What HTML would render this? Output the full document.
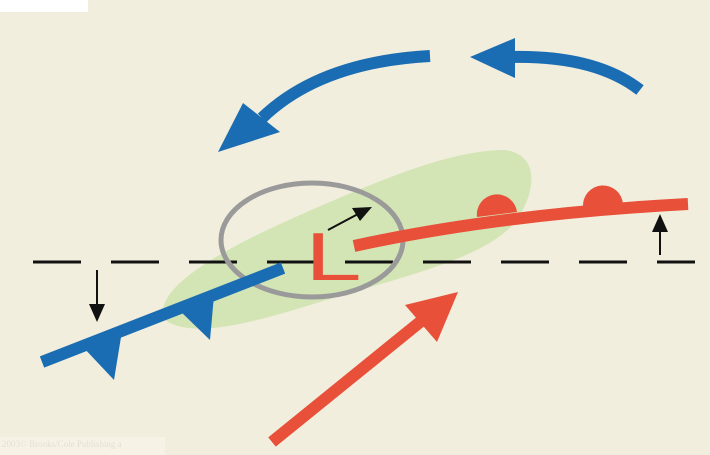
<!DOCTYPE html>
<html><head><meta charset="utf-8"><style>
html,body{margin:0;padding:0;background:#f2eedd;}
svg{display:block}
</style></head><body>
<svg width="710" height="455" viewBox="0 0 710 455">
<rect width="710" height="455" fill="#f2eedd"/>
<rect x="0" y="0" width="88" height="12" fill="#ffffff"/>
<path d="M165,320 C150,290 220,250 300,215 C380,180 450,150 505,150 C540,155 535,190 520,215 C500,250 430,270 360,290 C290,310 200,345 165,320 Z" fill="#d3e5b5"/>
<line x1="33" y1="262" x2="695" y2="262" stroke="#111" stroke-width="3" stroke-dasharray="48 30"/>
<ellipse cx="312" cy="240" rx="91" ry="57" fill="none" stroke="#9a9a9a" stroke-width="5"/>
<g>
<line x1="42" y1="362" x2="283" y2="268" stroke="#1b6db3" stroke-width="12"/>
<polygon points="82,346 122,331 114,380" fill="#1b6db3"/>
<polygon points="178,309 214,295 210,340" fill="#1b6db3"/>
</g>
<g>
<path d="M354,246 Q500,214 688,204" fill="none" stroke="#e9503a" stroke-width="12"/>
<path d="M477,217 A20,20 0 0 1 517,212 Z" fill="#e9503a"/>
<path d="M583,207 A20,20 0 0 1 623,204 Z" fill="#e9503a"/>
</g>
<text x="0" y="0" transform="translate(305,280) scale(1.5,1)" font-family="Liberation Sans, sans-serif" font-size="68" fill="#e9503a">L</text>
<g>
<line x1="328" y1="230" x2="358" y2="214" stroke="#111" stroke-width="2"/>
<polygon points="372,207 352,208 360,221" fill="#111"/>
</g>
<g>
<line x1="97" y1="270" x2="97" y2="308" stroke="#111" stroke-width="2"/>
<polygon points="89,304 105,304 97,322" fill="#111"/>
</g>
<g>
<line x1="660" y1="255" x2="660" y2="228" stroke="#111" stroke-width="2"/>
<polygon points="652,232 668,232 660,214" fill="#111"/>
</g>
<g>
<path d="M430,56 Q320,62 262,118" fill="none" stroke="#1b6db3" stroke-width="12"/>
<polygon points="218,152 243,103 280,132" fill="#1b6db3"/>
</g>
<g>
<path d="M640,90 Q595,55 510,57" fill="none" stroke="#1b6db3" stroke-width="12"/>
<polygon points="470,57 515,38 515,78" fill="#1b6db3"/>
</g>
<g>
<line x1="272" y1="442" x2="425" y2="318" stroke="#e9503a" stroke-width="12"/>
<polygon points="458,292 405,305 437,342" fill="#e9503a"/>
</g>
<rect x="0" y="437" width="165" height="18" fill="#f6f3e6"/>
<text x="2" y="447" font-family="Liberation Serif, serif" font-size="9" fill="#e4e0d0">2003© Brooks/Cole Publishing a</text>
</svg>
</body></html>
